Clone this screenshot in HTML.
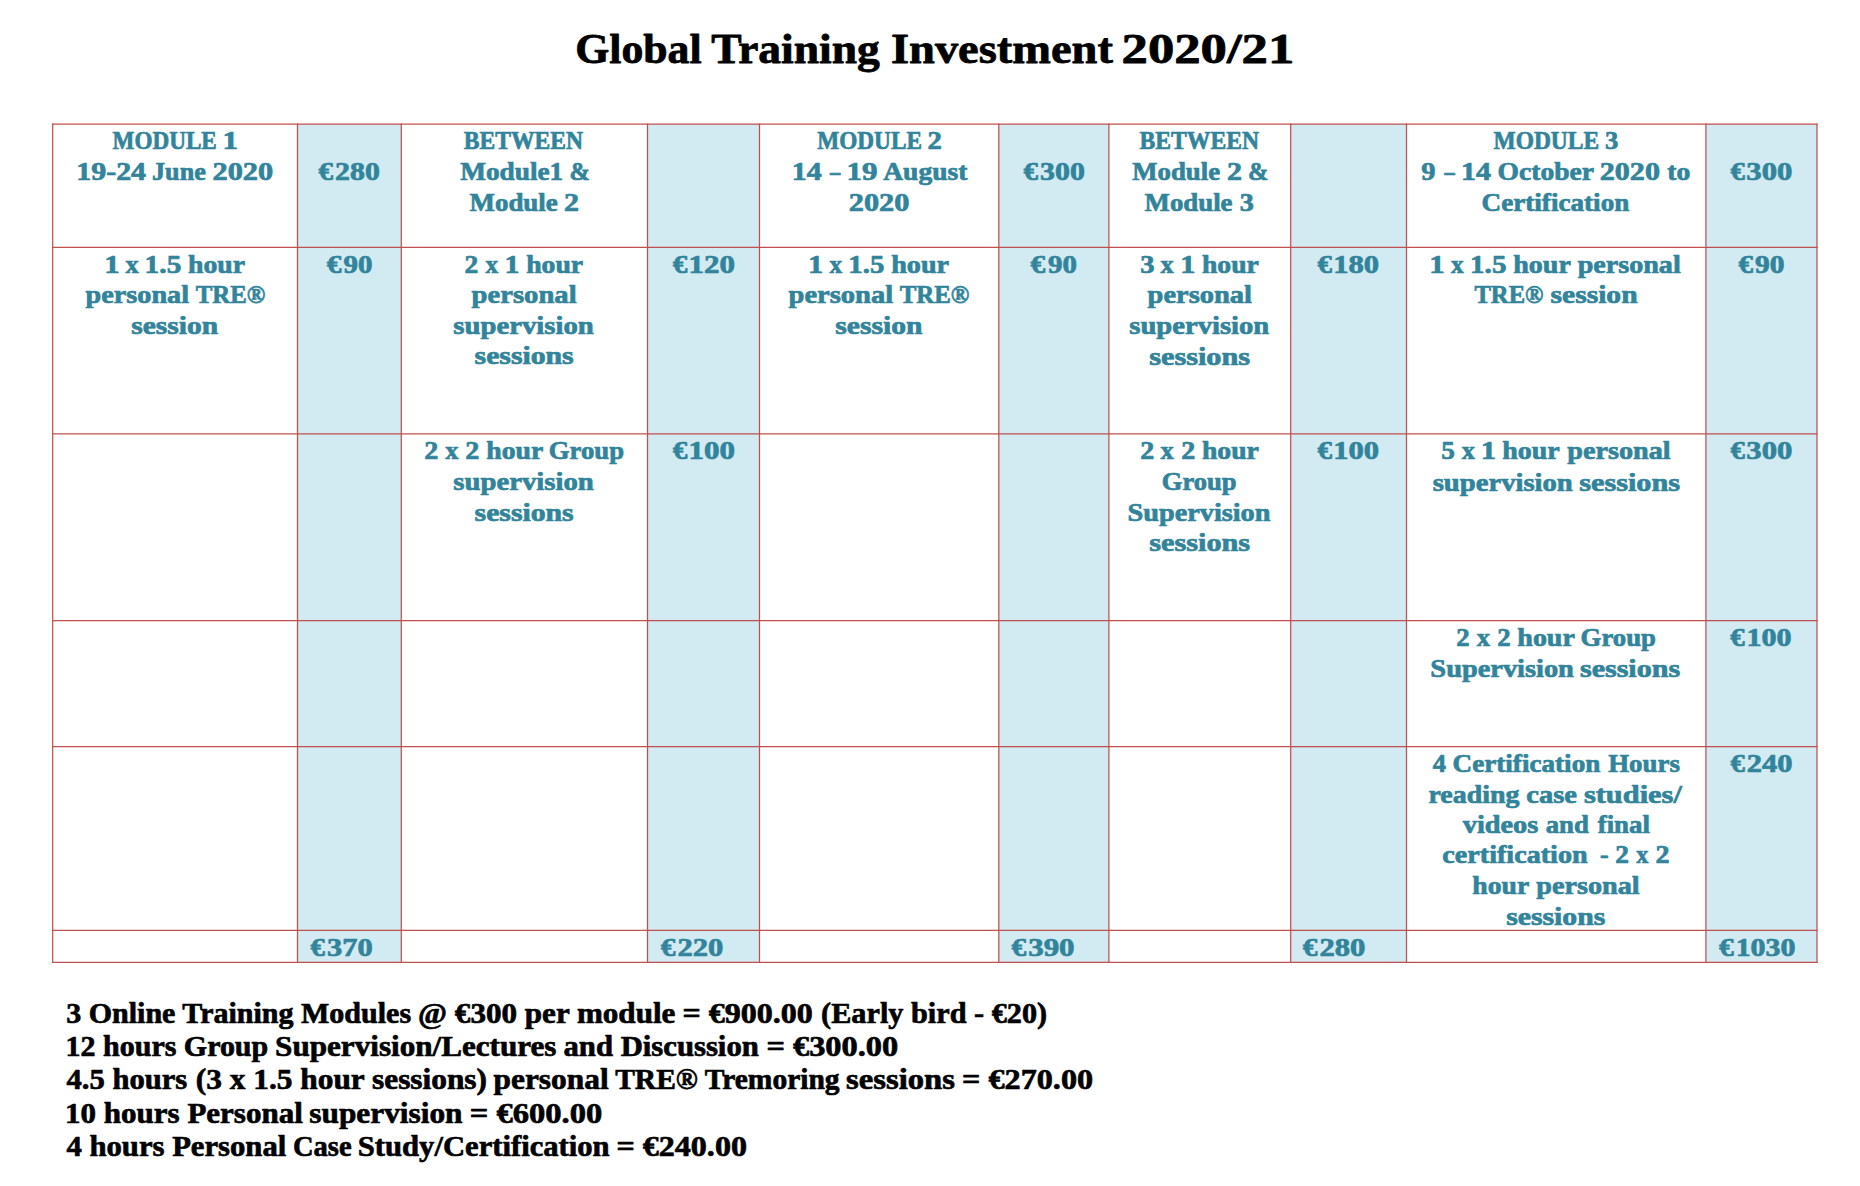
<!DOCTYPE html>
<html lang="en"><head><meta charset="utf-8"><title>Global Training Investment 2020/21</title>
<style>html,body{margin:0;padding:0;background:#fff}body{width:1860px;height:1186px;overflow:hidden}svg{display:block}text{font-family:"Liberation Serif","Times New Roman",serif;font-weight:bold;white-space:pre;stroke-linejoin:round}.g line{stroke:#c0504d;stroke-width:1.25}.t{font-size:25.2px;fill:#31849b;stroke:#31849b;stroke-width:0.7}.f{font-size:28.4px;fill:#000;stroke:#000;stroke-width:0.65}.h{font-size:43px;fill:#000;stroke:#000;stroke-width:0.8}</style></head><body>
<svg width="1860" height="1186" viewBox="0 0 1860 1186">
<rect width="1860" height="1186" fill="#fff"/>
<rect x="297.5" y="124.0" width="103.8" height="838.4" fill="#d2eaf1"/>
<rect x="647.5" y="124.0" width="112.0" height="838.4" fill="#d2eaf1"/>
<rect x="998.8" y="124.0" width="110.1" height="838.4" fill="#d2eaf1"/>
<rect x="1290.7" y="124.0" width="115.8" height="838.4" fill="#d2eaf1"/>
<rect x="1705.9" y="124.0" width="111.1" height="838.4" fill="#d2eaf1"/>
<g class="g">
<line x1="52.7" y1="123.38" x2="52.7" y2="963.02"/>
<line x1="297.5" y1="123.38" x2="297.5" y2="963.02"/>
<line x1="401.3" y1="123.38" x2="401.3" y2="963.02"/>
<line x1="647.5" y1="123.38" x2="647.5" y2="963.02"/>
<line x1="759.5" y1="123.38" x2="759.5" y2="963.02"/>
<line x1="998.8" y1="123.38" x2="998.8" y2="963.02"/>
<line x1="1108.9" y1="123.38" x2="1108.9" y2="963.02"/>
<line x1="1290.7" y1="123.38" x2="1290.7" y2="963.02"/>
<line x1="1406.5" y1="123.38" x2="1406.5" y2="963.02"/>
<line x1="1705.9" y1="123.38" x2="1705.9" y2="963.02"/>
<line x1="1817.0" y1="123.38" x2="1817.0" y2="963.02"/>
<line x1="52.08" y1="124.0" x2="1817.62" y2="124.0"/>
<line x1="52.08" y1="247.3" x2="1817.62" y2="247.3"/>
<line x1="52.08" y1="433.8" x2="1817.62" y2="433.8"/>
<line x1="52.08" y1="620.5" x2="1817.62" y2="620.5"/>
<line x1="52.08" y1="746.6" x2="1817.62" y2="746.6"/>
<line x1="52.08" y1="930.4" x2="1817.62" y2="930.4"/>
<line x1="52.08" y1="962.4" x2="1817.62" y2="962.4"/>
</g>
<text class="h" y="63"><tspan x="575.22" textLength="126.45" lengthAdjust="spacingAndGlyphs">Global</tspan> <tspan x="711.17" textLength="168.60" lengthAdjust="spacingAndGlyphs">Training</tspan> <tspan x="890.97" textLength="221.91" lengthAdjust="spacingAndGlyphs">Investment</tspan> <tspan x="1121.55" textLength="172.72" lengthAdjust="spacingAndGlyphs">2020/21</tspan></text>
<text class="t" y="149"><tspan x="112.57" textLength="104.22" lengthAdjust="spacingAndGlyphs">MODULE</tspan> <tspan x="222.48" textLength="15.51" lengthAdjust="spacingAndGlyphs">1</tspan></text>
<text class="t" y="180"><tspan x="76.39" textLength="69.65" lengthAdjust="spacingAndGlyphs">19-24</tspan> <tspan x="152.07" textLength="53.72" lengthAdjust="spacingAndGlyphs">June</tspan> <tspan x="212.54" textLength="60.66" lengthAdjust="spacingAndGlyphs">2020</tspan></text>
<text class="t" y="180"><tspan x="318.56" textLength="14.53" lengthAdjust="spacingAndGlyphs">€</tspan><tspan x="335.09" textLength="44.70" lengthAdjust="spacingAndGlyphs">280</tspan></text>
<text class="t" y="149"><tspan x="463.86" textLength="119.23" lengthAdjust="spacingAndGlyphs">BETWEEN</tspan></text>
<text class="t" y="180"><tspan x="460.19" textLength="103.07" lengthAdjust="spacingAndGlyphs">Module1</tspan> <tspan x="569.52" textLength="20.45" lengthAdjust="spacingAndGlyphs">&amp;</tspan></text>
<text class="t" y="211"><tspan x="469.48" textLength="88.34" lengthAdjust="spacingAndGlyphs">Module</tspan> <tspan x="564.02" textLength="15.01" lengthAdjust="spacingAndGlyphs">2</tspan></text>
<text class="t" y="149"><tspan x="817.23" textLength="104.74" lengthAdjust="spacingAndGlyphs">MODULE</tspan> <tspan x="927.62" textLength="14.35" lengthAdjust="spacingAndGlyphs">2</tspan></text>
<text class="t" y="180"><tspan x="791.73" textLength="29.85" lengthAdjust="spacingAndGlyphs">14</tspan> <tspan x="830.10" textLength="10.30" lengthAdjust="spacingAndGlyphs">–</tspan> <tspan x="846.45" textLength="31.03" lengthAdjust="spacingAndGlyphs">19</tspan> <tspan x="883.24" textLength="84.06" lengthAdjust="spacingAndGlyphs">August</tspan></text>
<text class="t" y="211"><tspan x="848.74" textLength="60.60" lengthAdjust="spacingAndGlyphs">2020</tspan></text>
<text class="t" y="180"><tspan x="1023.56" textLength="14.53" lengthAdjust="spacingAndGlyphs">€</tspan><tspan x="1040.06" textLength="44.75" lengthAdjust="spacingAndGlyphs">300</tspan></text>
<text class="t" y="149"><tspan x="1139.50" textLength="119.53" lengthAdjust="spacingAndGlyphs">BETWEEN</tspan></text>
<text class="t" y="180"><tspan x="1132.21" textLength="87.84" lengthAdjust="spacingAndGlyphs">Module</tspan> <tspan x="1227.02" textLength="15.01" lengthAdjust="spacingAndGlyphs">2</tspan> <tspan x="1247.96" textLength="20.42" lengthAdjust="spacingAndGlyphs">&amp;</tspan></text>
<text class="t" y="211"><tspan x="1144.59" textLength="87.94" lengthAdjust="spacingAndGlyphs">Module</tspan> <tspan x="1239.67" textLength="14.09" lengthAdjust="spacingAndGlyphs">3</tspan></text>
<text class="t" y="149"><tspan x="1493.49" textLength="105.59" lengthAdjust="spacingAndGlyphs">MODULE</tspan> <tspan x="1604.90" textLength="13.35" lengthAdjust="spacingAndGlyphs">3</tspan></text>
<text class="t" y="180"><tspan x="1421.22" textLength="14.19" lengthAdjust="spacingAndGlyphs">9</tspan> <tspan x="1444.62" textLength="10.23" lengthAdjust="spacingAndGlyphs">–</tspan> <tspan x="1460.91" textLength="29.95" lengthAdjust="spacingAndGlyphs">14</tspan> <tspan x="1497.58" textLength="95.97" lengthAdjust="spacingAndGlyphs">October</tspan> <tspan x="1599.80" textLength="60.15" lengthAdjust="spacingAndGlyphs">2020</tspan> <tspan x="1667.26" textLength="23.00" lengthAdjust="spacingAndGlyphs">to</tspan></text>
<text class="t" y="211"><tspan x="1481.56" textLength="147.80" lengthAdjust="spacingAndGlyphs">Certification</tspan></text>
<text class="t" y="180"><tspan x="1730.43" textLength="14.33" lengthAdjust="spacingAndGlyphs">€</tspan><tspan x="1746.36" textLength="45.97" lengthAdjust="spacingAndGlyphs">300</tspan></text>
<text class="t" y="273"><tspan x="104.35" textLength="15.48" lengthAdjust="spacingAndGlyphs">1</tspan> <tspan x="125.45" textLength="13.20" lengthAdjust="spacingAndGlyphs">x</tspan> <tspan x="144.62" textLength="36.75" lengthAdjust="spacingAndGlyphs">1.5</tspan> <tspan x="187.96" textLength="57.12" lengthAdjust="spacingAndGlyphs">hour</tspan></text>
<text class="t" y="303"><tspan x="85.62" textLength="103.47" lengthAdjust="spacingAndGlyphs">personal</tspan> <tspan x="195.84" textLength="69.49" lengthAdjust="spacingAndGlyphs">TRE®</tspan></text>
<text class="t" y="334"><tspan x="131.24" textLength="86.87" lengthAdjust="spacingAndGlyphs">session</tspan></text>
<text class="t" y="273"><tspan x="326.69" textLength="14.69" lengthAdjust="spacingAndGlyphs">€</tspan><tspan x="343.48" textLength="28.90" lengthAdjust="spacingAndGlyphs">90</tspan></text>
<text class="t" y="273"><tspan x="464.63" textLength="13.75" lengthAdjust="spacingAndGlyphs">2</tspan> <tspan x="485.41" textLength="12.65" lengthAdjust="spacingAndGlyphs">x</tspan> <tspan x="504.40" textLength="15.05" lengthAdjust="spacingAndGlyphs">1</tspan> <tspan x="526.18" textLength="56.98" lengthAdjust="spacingAndGlyphs">hour</tspan></text>
<text class="t" y="303"><tspan x="471.61" textLength="105.03" lengthAdjust="spacingAndGlyphs">personal</tspan></text>
<text class="t" y="334"><tspan x="453.27" textLength="140.55" lengthAdjust="spacingAndGlyphs">supervision</tspan></text>
<text class="t" y="364"><tspan x="474.59" textLength="99.08" lengthAdjust="spacingAndGlyphs">sessions</tspan></text>
<text class="t" y="273"><tspan x="672.68" textLength="14.61" lengthAdjust="spacingAndGlyphs">€</tspan><tspan x="688.43" textLength="46.48" lengthAdjust="spacingAndGlyphs">120</tspan></text>
<text class="t" y="273"><tspan x="808.12" textLength="15.26" lengthAdjust="spacingAndGlyphs">1</tspan> <tspan x="829.62" textLength="12.66" lengthAdjust="spacingAndGlyphs">x</tspan> <tspan x="848.38" textLength="36.10" lengthAdjust="spacingAndGlyphs">1.5</tspan> <tspan x="891.17" textLength="57.94" lengthAdjust="spacingAndGlyphs">hour</tspan></text>
<text class="t" y="303"><tspan x="788.53" textLength="104.64" lengthAdjust="spacingAndGlyphs">personal</tspan> <tspan x="899.65" textLength="69.67" lengthAdjust="spacingAndGlyphs">TRE®</tspan></text>
<text class="t" y="334"><tspan x="835.25" textLength="87.24" lengthAdjust="spacingAndGlyphs">session</tspan></text>
<text class="t" y="273"><tspan x="1030.64" textLength="14.73" lengthAdjust="spacingAndGlyphs">€</tspan><tspan x="1047.97" textLength="28.90" lengthAdjust="spacingAndGlyphs">90</tspan></text>
<text class="t" y="273"><tspan x="1140.18" textLength="14.28" lengthAdjust="spacingAndGlyphs">3</tspan> <tspan x="1160.49" textLength="13.17" lengthAdjust="spacingAndGlyphs">x</tspan> <tspan x="1180.15" textLength="15.15" lengthAdjust="spacingAndGlyphs">1</tspan> <tspan x="1201.99" textLength="56.88" lengthAdjust="spacingAndGlyphs">hour</tspan></text>
<text class="t" y="303"><tspan x="1147.60" textLength="104.42" lengthAdjust="spacingAndGlyphs">personal</tspan></text>
<text class="t" y="334"><tspan x="1129.25" textLength="139.97" lengthAdjust="spacingAndGlyphs">supervision</tspan></text>
<text class="t" y="365"><tspan x="1149.17" textLength="101.01" lengthAdjust="spacingAndGlyphs">sessions</tspan></text>
<text class="t" y="273"><tspan x="1317.59" textLength="14.46" lengthAdjust="spacingAndGlyphs">€</tspan><tspan x="1333.27" textLength="45.91" lengthAdjust="spacingAndGlyphs">180</tspan></text>
<text class="t" y="273"><tspan x="1429.39" textLength="15.45" lengthAdjust="spacingAndGlyphs">1</tspan> <tspan x="1451.05" textLength="12.67" lengthAdjust="spacingAndGlyphs">x</tspan> <tspan x="1470.07" textLength="36.37" lengthAdjust="spacingAndGlyphs">1.5</tspan> <tspan x="1513.29" textLength="57.04" lengthAdjust="spacingAndGlyphs">hour</tspan> <tspan x="1577.68" textLength="103.04" lengthAdjust="spacingAndGlyphs">personal</tspan></text>
<text class="t" y="303"><tspan x="1474.44" textLength="69.04" lengthAdjust="spacingAndGlyphs">TRE®</tspan> <tspan x="1550.50" textLength="87.10" lengthAdjust="spacingAndGlyphs">session</tspan></text>
<text class="t" y="273"><tspan x="1738.56" textLength="14.53" lengthAdjust="spacingAndGlyphs">€</tspan><tspan x="1754.92" textLength="29.45" lengthAdjust="spacingAndGlyphs">90</tspan></text>
<text class="t" y="459"><tspan x="424.34" textLength="14.03" lengthAdjust="spacingAndGlyphs">2</tspan> <tspan x="445.16" textLength="13.24" lengthAdjust="spacingAndGlyphs">x</tspan> <tspan x="465.34" textLength="14.03" lengthAdjust="spacingAndGlyphs">2</tspan> <tspan x="486.34" textLength="56.37" lengthAdjust="spacingAndGlyphs">hour</tspan> <tspan x="548.82" textLength="75.17" lengthAdjust="spacingAndGlyphs">Group</tspan></text>
<text class="t" y="490"><tspan x="453.27" textLength="140.55" lengthAdjust="spacingAndGlyphs">supervision</tspan></text>
<text class="t" y="521"><tspan x="474.59" textLength="99.08" lengthAdjust="spacingAndGlyphs">sessions</tspan></text>
<text class="t" y="459"><tspan x="672.68" textLength="14.61" lengthAdjust="spacingAndGlyphs">€</tspan><tspan x="688.43" textLength="46.48" lengthAdjust="spacingAndGlyphs">100</tspan></text>
<text class="t" y="459"><tspan x="1140.20" textLength="14.00" lengthAdjust="spacingAndGlyphs">2</tspan> <tspan x="1160.45" textLength="13.20" lengthAdjust="spacingAndGlyphs">x</tspan> <tspan x="1181.20" textLength="14.00" lengthAdjust="spacingAndGlyphs">2</tspan> <tspan x="1201.96" textLength="56.90" lengthAdjust="spacingAndGlyphs">hour</tspan></text>
<text class="t" y="490"><tspan x="1161.84" textLength="74.79" lengthAdjust="spacingAndGlyphs">Group</tspan></text>
<text class="t" y="521"><tspan x="1127.52" textLength="142.92" lengthAdjust="spacingAndGlyphs">Supervision</tspan></text>
<text class="t" y="551"><tspan x="1149.21" textLength="100.93" lengthAdjust="spacingAndGlyphs">sessions</tspan></text>
<text class="t" y="459"><tspan x="1317.56" textLength="14.53" lengthAdjust="spacingAndGlyphs">€</tspan><tspan x="1333.32" textLength="45.83" lengthAdjust="spacingAndGlyphs">100</tspan></text>
<text class="t" y="459"><tspan x="1441.25" textLength="13.66" lengthAdjust="spacingAndGlyphs">5</tspan> <tspan x="1461.70" textLength="13.20" lengthAdjust="spacingAndGlyphs">x</tspan> <tspan x="1480.83" textLength="15.36" lengthAdjust="spacingAndGlyphs">1</tspan> <tspan x="1502.20" textLength="56.92" lengthAdjust="spacingAndGlyphs">hour</tspan> <tspan x="1567.31" textLength="103.29" lengthAdjust="spacingAndGlyphs">personal</tspan></text>
<text class="t" y="491"><tspan x="1432.70" textLength="140.10" lengthAdjust="spacingAndGlyphs">supervision</tspan> <tspan x="1579.17" textLength="101.01" lengthAdjust="spacingAndGlyphs">sessions</tspan></text>
<text class="t" y="459"><tspan x="1730.43" textLength="14.33" lengthAdjust="spacingAndGlyphs">€</tspan><tspan x="1746.36" textLength="45.97" lengthAdjust="spacingAndGlyphs">300</tspan></text>
<text class="t" y="646"><tspan x="1456.26" textLength="13.38" lengthAdjust="spacingAndGlyphs">2</tspan> <tspan x="1476.65" textLength="13.27" lengthAdjust="spacingAndGlyphs">x</tspan> <tspan x="1497.26" textLength="13.38" lengthAdjust="spacingAndGlyphs">2</tspan> <tspan x="1517.34" textLength="57.00" lengthAdjust="spacingAndGlyphs">hour</tspan> <tspan x="1580.59" textLength="75.36" lengthAdjust="spacingAndGlyphs">Group</tspan></text>
<text class="t" y="677"><tspan x="1430.39" textLength="143.53" lengthAdjust="spacingAndGlyphs">Supervision</tspan> <tspan x="1579.95" textLength="100.23" lengthAdjust="spacingAndGlyphs">sessions</tspan></text>
<text class="t" y="646"><tspan x="1730.38" textLength="14.37" lengthAdjust="spacingAndGlyphs">€</tspan><tspan x="1746.59" textLength="45.02" lengthAdjust="spacingAndGlyphs">100</tspan></text>
<text class="t" y="772"><tspan x="1432.68" textLength="13.26" lengthAdjust="spacingAndGlyphs">4</tspan> <tspan x="1452.60" textLength="147.74" lengthAdjust="spacingAndGlyphs">Certification</tspan> <tspan x="1608.17" textLength="71.74" lengthAdjust="spacingAndGlyphs">Hours</tspan></text>
<text class="t" y="803"><tspan x="1428.46" textLength="90.93" lengthAdjust="spacingAndGlyphs">reading</tspan> <tspan x="1526.38" textLength="50.62" lengthAdjust="spacingAndGlyphs">case</tspan> <tspan x="1583.92" textLength="97.95" lengthAdjust="spacingAndGlyphs">studies/</tspan></text>
<text class="t" y="833"><tspan x="1462.74" textLength="75.57" lengthAdjust="spacingAndGlyphs">videos</tspan> <tspan x="1545.71" textLength="43.12" lengthAdjust="spacingAndGlyphs">and</tspan> <tspan x="1597.71" textLength="52.24" lengthAdjust="spacingAndGlyphs">final</tspan></text>
<text class="t" y="863"><tspan x="1442.31" textLength="145.36" lengthAdjust="spacingAndGlyphs">certification</tspan>  <tspan x="1600.13" textLength="8.61" lengthAdjust="spacingAndGlyphs">-</tspan> <tspan x="1615.21" textLength="13.70" lengthAdjust="spacingAndGlyphs">2</tspan> <tspan x="1636.15" textLength="12.16" lengthAdjust="spacingAndGlyphs">x</tspan> <tspan x="1655.40" textLength="14.04" lengthAdjust="spacingAndGlyphs">2</tspan></text>
<text class="t" y="894"><tspan x="1472.31" textLength="56.38" lengthAdjust="spacingAndGlyphs">hour</tspan> <tspan x="1536.31" textLength="103.39" lengthAdjust="spacingAndGlyphs">personal</tspan></text>
<text class="t" y="925"><tspan x="1506.19" textLength="99.15" lengthAdjust="spacingAndGlyphs">sessions</tspan></text>
<text class="t" y="772"><tspan x="1730.43" textLength="14.33" lengthAdjust="spacingAndGlyphs">€</tspan><tspan x="1746.69" textLength="45.68" lengthAdjust="spacingAndGlyphs">240</tspan></text>
<text class="t" y="956"><tspan x="310.43" textLength="14.33" lengthAdjust="spacingAndGlyphs">€</tspan><tspan x="327.14" textLength="45.61" lengthAdjust="spacingAndGlyphs">370</tspan></text>
<text class="t" y="956"><tspan x="660.67" textLength="14.70" lengthAdjust="spacingAndGlyphs">€</tspan><tspan x="677.50" textLength="45.79" lengthAdjust="spacingAndGlyphs">220</tspan></text>
<text class="t" y="956"><tspan x="1011.54" textLength="14.73" lengthAdjust="spacingAndGlyphs">€</tspan><tspan x="1028.19" textLength="46.38" lengthAdjust="spacingAndGlyphs">390</tspan></text>
<text class="t" y="956"><tspan x="1302.67" textLength="14.70" lengthAdjust="spacingAndGlyphs">€</tspan><tspan x="1319.50" textLength="45.92" lengthAdjust="spacingAndGlyphs">280</tspan></text>
<text class="t" y="956"><tspan x="1719.04" textLength="14.71" lengthAdjust="spacingAndGlyphs">€</tspan><tspan x="1735.67" textLength="59.82" lengthAdjust="spacingAndGlyphs">1030</tspan></text>
<text class="f" y="1023"><tspan x="66.19" textLength="344.90" lengthAdjust="spacingAndGlyphs">3 Online Training Modules</tspan> <tspan x="418.14" textLength="257.28" lengthAdjust="spacingAndGlyphs">@ €300 per module</tspan> <tspan x="682.45" textLength="130.42" lengthAdjust="spacingAndGlyphs">= €900.00</tspan> <tspan x="821.13" textLength="226.00" lengthAdjust="spacingAndGlyphs">(Early bird - €20)</tspan></text>
<text class="f" y="1056"><tspan x="65.63" textLength="202.59" lengthAdjust="spacingAndGlyphs">12 hours Group</tspan> <tspan x="275.13" textLength="281.31" lengthAdjust="spacingAndGlyphs">Supervision/Lectures</tspan> <tspan x="563.51" textLength="195.30" lengthAdjust="spacingAndGlyphs">and Discussion</tspan> <tspan x="766.40" textLength="131.83" lengthAdjust="spacingAndGlyphs">= €300.00</tspan></text>
<text class="f" y="1089"><tspan x="66.54" textLength="120.71" lengthAdjust="spacingAndGlyphs">4.5 hours</tspan> <tspan x="195.83" textLength="291.18" lengthAdjust="spacingAndGlyphs">(3 x 1.5 hour sessions)</tspan> <tspan x="493.59" textLength="115.02" lengthAdjust="spacingAndGlyphs">personal</tspan> <tspan x="615.19" textLength="224.38" lengthAdjust="spacingAndGlyphs">TRE® Tremoring</tspan> <tspan x="846.10" textLength="108.75" lengthAdjust="spacingAndGlyphs">sessions</tspan> <tspan x="962.09" textLength="131.04" lengthAdjust="spacingAndGlyphs">= €270.00</tspan></text>
<text class="f" y="1123"><tspan x="65.12" textLength="237.66" lengthAdjust="spacingAndGlyphs">10 hours Personal</tspan> <tspan x="309.30" textLength="153.23" lengthAdjust="spacingAndGlyphs">supervision</tspan> <tspan x="469.74" textLength="132.45" lengthAdjust="spacingAndGlyphs">= €600.00</tspan></text>
<text class="f" y="1156"><tspan x="66.50" textLength="219.74" lengthAdjust="spacingAndGlyphs">4 hours Personal</tspan> <tspan x="293.00" textLength="58.64" lengthAdjust="spacingAndGlyphs">Case</tspan> <tspan x="357.76" textLength="251.90" lengthAdjust="spacingAndGlyphs">Study/Certification</tspan> <tspan x="616.45" textLength="130.53" lengthAdjust="spacingAndGlyphs">= €240.00</tspan></text>
</svg></body></html>
